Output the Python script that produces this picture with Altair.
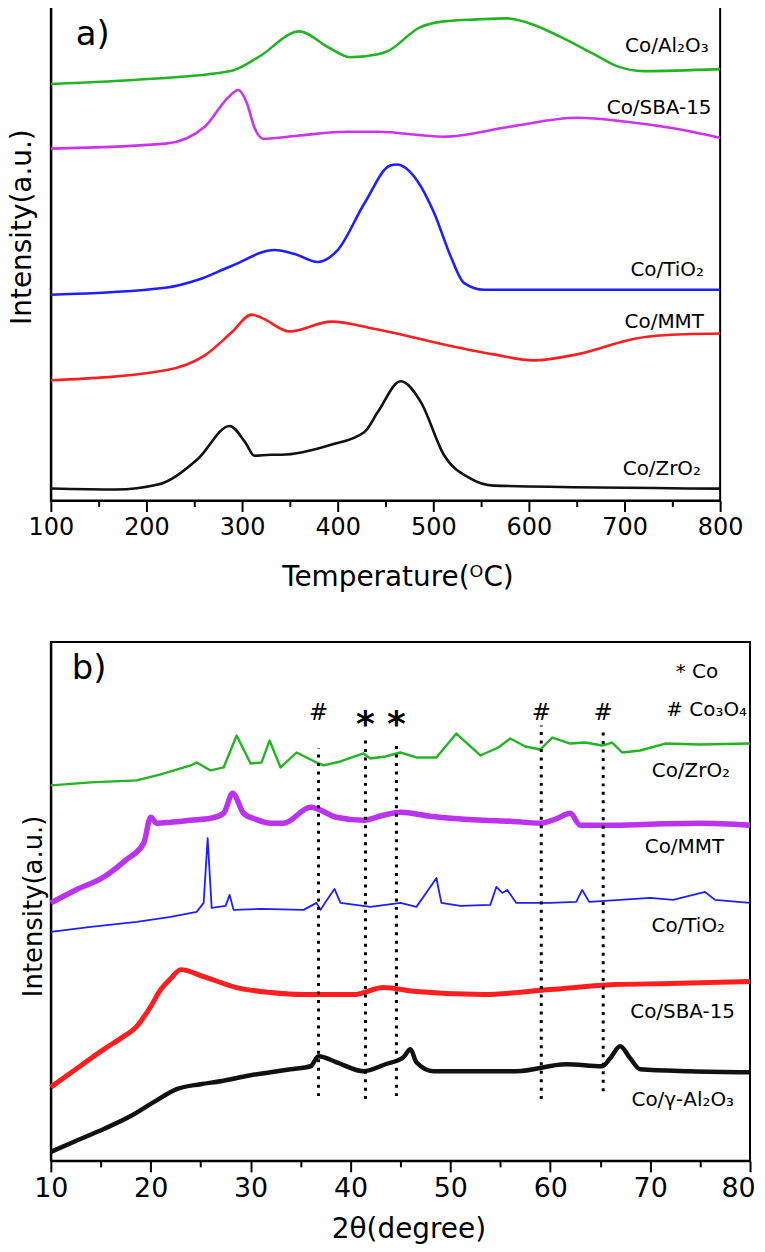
import altair as alt
import pandas as pd

# ---------------- Panel a: H2-TPR profiles ----------------
a_series = ["Co/Al2O3", "Co/SBA-15", "Co/TiO2", "Co/MMT", "Co/ZrO2"]
a_colors = ["#22b422", "#cc33ee", "#1e1eff", "#ff1e1e", "#111111"]

al2o3_T = [100, 202, 288, 317, 360, 390, 413, 442, 452, 486, 511, 546, 577, 598, 632, 668, 692, 720, 800]
al2o3_h = [419, 424, 432, 446, 472, 456, 446, 449, 452, 476, 482, 484, 485, 481, 467, 449, 437, 432, 434]

sba_T = [100, 220, 261, 285, 296, 305, 313, 322, 358, 410, 442, 511, 580, 650, 702, 754, 800]
sba_h = [354, 359, 376, 405, 413, 400, 375, 364, 367, 371, 371, 366, 376, 385, 381, 374, 365]

tio2_T = [100, 220, 254, 289, 334, 355, 379, 400, 428, 455, 462, 483, 501, 518, 532, 553, 800]
tio2_h = [207, 214, 222, 236, 252, 248, 240, 252, 299, 337, 338, 322, 289, 246, 219, 212, 212]

mmt_T = [100, 220, 261, 289, 310, 320, 350, 393, 442, 511, 563, 605, 650, 712, 736, 800]
mmt_h = [121, 131, 146, 169, 187, 184, 170, 180, 172, 157, 147, 141, 147, 163, 166, 168]

zro2_T = [100, 168, 212, 254, 287, 303, 313, 330, 341, 393, 428, 442, 466, 487, 511, 539, 563, 800]
zro2_h = [12, 11, 16, 42, 75, 59, 45, 46, 46, 56, 69, 89, 120, 99, 46, 22, 15, 12]

a_labels = ["Co/Al₂O₃", "Co/SBA-15", "Co/TiO₂", "Co/MMT", "Co/ZrO₂"]
a_label_T = [788, 791, 783, 783, 780]
a_label_h = [451, 389, 226, 174, 26]

a_ticks = [100, 150, 200, 250, 300, 350, 400, 450, 500, 550, 600, 650, 700, 750, 800]

# ---------------- Panel b: XRD patterns ----------------
b_series = ["Co/ZrO2", "Co/MMT", "Co/TiO2", "Co/SBA-15", "Co/g-Al2O3"]
b_colors = ["#22b422", "#bb33ee", "#1e1eff", "#ff1e1e", "#111111"]
b_widths = [2.4, 5.5, 1.8, 5.0, 4.5]
b_interp = ["linear", "monotone", "linear", "monotone", "monotone"]

x_zro2 = [10, 14, 18.6, 21, 24, 24.6, 26, 27.3, 28.6, 30, 31.1, 31.9, 33, 34.6, 36.6, 37.3, 39, 41.3, 42, 43.5, 45, 46.6, 48.6, 50.6, 53, 54.8, 56, 57.5, 59, 60.2, 62, 63.5, 65.2, 66.2, 67.2, 69, 71.5, 75, 80]
y_zro2 = [377, 380, 382, 388, 397, 400, 392, 395, 427, 399, 400, 422, 395, 410, 400, 397, 401, 409, 404, 406, 410, 405, 405, 429, 407, 415, 424, 416, 413, 425, 419, 420, 417, 420, 410, 412, 419, 418, 419]

x_mmt = [10, 12.5, 15.3, 17.5, 19.3, 20, 20.6, 22, 24, 26, 27.3, 28.2, 29.3, 30.5, 32, 33.3, 36, 38.6, 41.3, 43.3, 45, 48, 53.3, 56, 59, 60.5, 62, 63, 66, 70, 75, 80]
y_mmt = [259, 272, 285, 302, 319, 345, 339, 340, 342, 344, 349, 369, 349, 343, 339, 339, 355, 345, 342, 347, 350, 346, 342, 341, 339, 343, 349, 337, 337, 338, 339, 337]

x_tio2 = [10, 14, 18.6, 22, 24.6, 25.3, 25.7, 26.1, 27.5, 27.9, 28.3, 31, 35.3, 36.6, 37, 37.5, 38.4, 39, 42, 45, 46.6, 48.2, 48.6, 49.1, 51, 54, 54.6, 55.2, 55.7, 56.6, 60, 62.6, 63.2, 63.9, 67, 70, 72.3, 75.5, 76.5, 80]
y_tio2 = [230, 235, 240, 245, 250, 259, 324, 254, 256, 267, 252, 253, 252, 259, 252, 260, 273, 259, 255, 259, 255, 278, 284, 259, 256, 257, 275, 269, 272, 259, 259, 260, 272, 260, 262, 264, 262, 270, 262, 259]

x_sba = [10, 12.5, 15.3, 17, 18.6, 20, 21, 22, 23, 25.3, 28.6, 32, 35.3, 40.3, 43.3, 46.6, 53.3, 60, 66.5, 72, 80]
y_sba = [74, 92, 112, 123, 135, 155, 172, 183, 192, 185, 174, 169, 167, 167, 174, 170, 167, 172, 177, 178, 180]

x_al2o3 = [10, 12.5, 15.3, 18, 20.3, 22.6, 25, 27, 30, 32, 34, 36, 36.8, 38.6, 41.3, 43.5, 45.3, 46, 46.6, 48.3, 52, 56.6, 61.6, 65.2, 66, 67, 68, 69, 74, 80]
y_al2o3 = [9, 20, 32, 45, 59, 72, 77, 80, 86, 89, 92, 95, 105, 99, 90, 97, 104, 112, 99, 90, 90, 90, 97, 95, 103, 115, 103, 92, 90, 89]

b_labels = ["Co/ZrO₂", "Co/MMT", "Co/TiO₂", "Co/SBA-15", "Co/γ-Al₂O₃"]
b_label_x = [78.0, 77.4, 77.5, 78.5, 78.4]
b_label_h = [385, 309, 230, 143, 55]

# reference lines: Co3O4 (#) and Co (*)
ref_x = [36.8, 41.5, 44.6, 59.1, 65.3]
ref_top = [414, 422, 422, 437, 432]
ref_bot = [65, 62, 65, 62, 70]
ref_sym = ["#", "*", "*", "#", "#"]

b_ticks = [10, 15, 20, 25, 30, 35, 40, 45, 50, 55, 60, 65, 70, 75, 80]

FONT = "DejaVu Sans"

# ---------------- build tables ----------------
rows = []
for name, T, h in zip(a_series, [al2o3_T, sba_T, tio2_T, mmt_T, zro2_T], [al2o3_h, sba_h, tio2_h, mmt_h, zro2_h]):
    for t, v in zip(T, h):
        rows.append({"s": name, "T": t, "h": v})
df_a = pd.DataFrame(rows)

rows = []
for name, X, Y in zip(b_series, [x_zro2, x_mmt, x_tio2, x_sba, x_al2o3], [y_zro2, y_mmt, y_tio2, y_sba, y_al2o3]):
    for t, v in zip(X, Y):
        rows.append({"s": name, "x": t, "h": v})
df_b = pd.DataFrame(rows)

# ---------------- panel a ----------------
xa_scale = alt.Scale(domain=[100, 800], nice=False, zero=False)
ya_scale = alt.Scale(domain=[0, 499], nice=False, zero=True)

xa = alt.X("T:Q", scale=xa_scale,
           axis=alt.Axis(values=a_ticks, format="d", labelFlush=False,
                         labelExpr="datum.value % 100 == 0 ? datum.label : ''",
                         tickSize={"condition": {"test": "datum.value % 100 != 0", "value": 6}, "value": 11},
                         labelFontSize=24, labelPadding=4,
                         title="Temperature(ᴼC)", titleFontSize=28, titlePadding=24, titleX=348))
ya = alt.Y("h:Q", scale=ya_scale,
           axis=alt.Axis(labels=False, ticks=False, title="Intensity(a.u.)", titleFontSize=28,
                         titlePadding=14, titleY=223))

lines_a = alt.Chart(df_a).mark_line(strokeWidth=2.6, interpolate="monotone").encode(
    x=xa, y=ya,
    color=alt.Color("s:N", scale=alt.Scale(domain=a_series, range=a_colors), legend=None),
)

lab_a = alt.Chart(pd.DataFrame({"T": a_label_T, "h": a_label_h, "t": a_labels})).mark_text(
    align="right", baseline="alphabetic", fontSize=20, font=FONT, color="black"
).encode(x=alt.X("T:Q", scale=xa_scale), y=alt.Y("h:Q", scale=ya_scale), text="t:N")

tag_a = alt.Chart(pd.DataFrame({"T": [126], "h": [458], "t": ["a)"]})).mark_text(
    align="left", baseline="alphabetic", fontSize=34, font=FONT, color="black"
).encode(x=alt.X("T:Q", scale=xa_scale), y=alt.Y("h:Q", scale=ya_scale), text="t:N")

panel_a = alt.layer(lines_a, lab_a, tag_a).properties(width=672, height=498)

# ---------------- panel b ----------------
xb_scale = alt.Scale(domain=[10, 80], nice=False, zero=False)
yb_scale = alt.Scale(domain=[0, 521], nice=False, zero=True)

xb = alt.X("x:Q", scale=xb_scale,
           axis=alt.Axis(values=b_ticks, format="d", labelFlush=False,
                         labelExpr="datum.value % 10 == 0 ? datum.label : ''",
                         labelOffset={"condition": {"test": "datum.value == 80", "value": -12}, "value": 0},
                         tickSize={"condition": {"test": "datum.value % 10 != 0", "value": 6}, "value": 11},
                         labelFontSize=27, labelPadding=4,
                         title="2θ(degree)", titleFontSize=28, titlePadding=14, titleX=359))
yb = alt.Y("h:Q", scale=yb_scale,
           axis=alt.Axis(labels=False, ticks=False, title="Intensity(a.u.)", titleFontSize=26,
                         titlePadding=4, titleY=265))

line_layers = []
for i, (name, col, w, ip) in enumerate(zip(b_series, b_colors, b_widths, b_interp)):
    enc = dict(x=xb, y=yb) if i == 0 else dict(x=alt.X("x:Q", scale=xb_scale), y=alt.Y("h:Q", scale=yb_scale))
    line_layers.append(
        alt.Chart(df_b[df_b["s"] == name]).mark_line(strokeWidth=w, color=col, interpolate=ip,
                                                     strokeJoin="round").encode(**enc)
    )

df_ref = pd.DataFrame({"x": ref_x, "top": ref_top, "bot": ref_bot, "sym": ref_sym})
rules_b = alt.Chart(df_ref).mark_rule(strokeWidth=3, strokeDash=[3, 5.5], color="black").encode(
    x=alt.X("x:Q", scale=xb_scale), y=alt.Y("bot:Q", scale=yb_scale), y2="top:Q"
)

hash_b = alt.Chart(df_ref[df_ref["sym"] == "#"].assign(h=443)).mark_text(
    align="center", baseline="alphabetic", fontSize=23, font=FONT, color="black"
).encode(x=alt.X("x:Q", scale=xb_scale), y=alt.Y("h:Q", scale=yb_scale), text="sym:N")

star_b = alt.Chart(df_ref[df_ref["sym"] == "*"].assign(h=427)).mark_text(
    align="center", baseline="alphabetic", fontSize=36, fontWeight="bold", font=FONT, color="black"
).encode(x=alt.X("x:Q", scale=xb_scale), y=alt.Y("h:Q", scale=yb_scale), text="sym:N")

lab_b = alt.Chart(pd.DataFrame({"x": b_label_x, "h": b_label_h, "t": b_labels})).mark_text(
    align="right", baseline="alphabetic", fontSize=20, font=FONT, color="black"
).encode(x=alt.X("x:Q", scale=xb_scale), y=alt.Y("h:Q", scale=yb_scale), text="t:N")

legend_b = alt.Chart(pd.DataFrame({"x": [76.8, 79.7], "h": [485, 447], "t": ["*  Co", "# Co₃O₄"]})).mark_text(
    align="right", baseline="alphabetic", fontSize=20, font=FONT, color="black"
).encode(x=alt.X("x:Q", scale=xb_scale), y=alt.Y("h:Q", scale=yb_scale), text="t:N")

tag_b = alt.Chart(pd.DataFrame({"x": [12.1], "h": [484], "t": ["b)"]})).mark_text(
    align="left", baseline="alphabetic", fontSize=34, font=FONT, color="black"
).encode(x=alt.X("x:Q", scale=xb_scale), y=alt.Y("h:Q", scale=yb_scale), text="t:N")

panel_b = alt.layer(*line_layers, rules_b, hash_b, star_b, lab_b, legend_b, tag_b).properties(
    width=702, height=521
)

chart = alt.concat(panel_a, panel_b, columns=1, spacing=49).properties(
    padding={"left": 0, "top": -7, "right": 0, "bottom": 0}
).configure_view(stroke="black", strokeWidth=2).configure_axis(
    domainColor="black", domainWidth=2, tickColor="black", tickWidth=2, labelColor="black",
    titleColor="black", grid=False, labelFont=FONT, titleFont=FONT, titleFontWeight="normal"
)

chart.save("out.html", embed_options={"renderer": "svg", "actions": False})
